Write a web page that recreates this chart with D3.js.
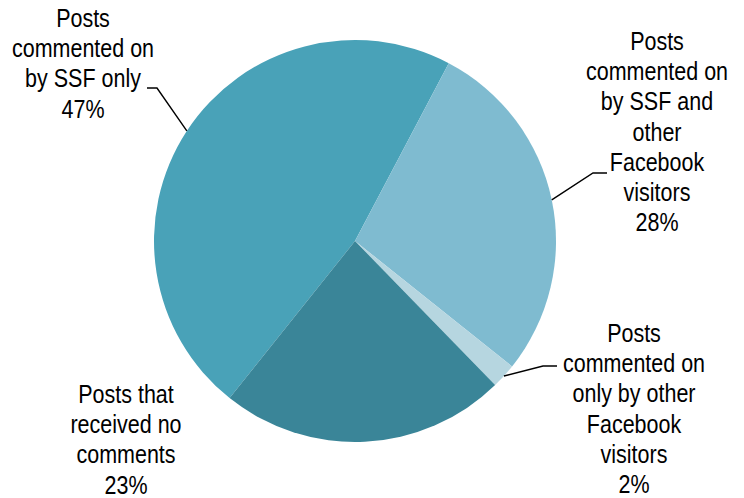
<!DOCTYPE html>
<html>
<head>
<meta charset="utf-8">
<script src="https://cdn.jsdelivr.net/npm/d3@7"></script>
<style>
  html, body { margin: 0; padding: 0; background: #fff; }
  svg { display: block; }
  text { font-family: "Liberation Sans", Arial, sans-serif; fill: #000; }
</style>
</head>
<body>
<svg id="chart" width="744" height="498"></svg>
<script>
// ---- data ----
const categories = [
  "Posts commented on by SSF only",
  "Posts commented on by SSF and other Facebook visitors",
  "Posts commented on only by other Facebook visitors",
  "Posts that received no comments"
];
const values = [47, 28, 2, 23];
const labelLines = [
  ["Posts", "commented on", "by SSF only", "47%"],
  ["Posts", "commented on", "by SSF and", "other", "Facebook", "visitors", "28%"],
  ["Posts", "commented on", "only by other", "Facebook", "visitors", "2%"],
  ["Posts that", "received no", "comments", "23%"]
];
const colors = ["#49a2b8", "#7fbbd0", "#b6d6e0", "#3a8598"];

// ---- layout ----
const cx = 355, cy = 241, R = 201;
const start = -141.4 * Math.PI / 180;
// label centre x, first baseline y, and optional leader elbow point
const labelPos = [
  { x: 83,  y: 27,  elbow: [157, 88],  end: [147, 88] },
  { x: 657, y: 50,  elbow: [593, 173], end: [607, 173] },
  { x: 634, y: 342, elbow: [543, 366], end: [557, 366] },
  { x: 126, y: 403, elbow: null }
];
const lineStep = 30.2;
const fontSize = 21.5;
const yStretch = 1.18;

const svg = d3.select("#chart");
const pie = d3.pie().sort(null).value(d => d).startAngle(start).endAngle(start + 2 * Math.PI);
const arcs = pie(values);
const arc = d3.arc().innerRadius(0).outerRadius(R);

const g = svg.append("g").attr("transform", `translate(${cx},${cy})`);
g.selectAll("path.slice")
  .data(arcs)
  .join("path")
  .attr("class", "slice")
  .attr("d", arc)
  .attr("fill", (d, i) => colors[i]);

// leader lines
arcs.forEach((d, i) => {
  const lp = labelPos[i];
  if (!lp.elbow) return;
  const mid = (d.startAngle + d.endAngle) / 2;
  const px = cx + R * Math.sin(mid), py = cy - R * Math.cos(mid);
  svg.append("polyline")
    .attr("points", [[px, py], lp.elbow, lp.end].map(p => p.join(",")).join(" "))
    .attr("fill", "none")
    .attr("stroke", "#000")
    .attr("stroke-width", 1.4);
});

// labels
labelLines.forEach((lines, i) => {
  const lp = labelPos[i];
  const lg = svg.append("g")
    .attr("transform", `translate(${lp.x},${lp.y}) scale(1,${yStretch})`);
  lines.forEach((t, k) => {
    lg.append("text")
      .attr("x", 0)
      .attr("y", k * lineStep / yStretch)
      .attr("text-anchor", "middle")
      .attr("font-size", fontSize)
      .text(t);
  });
});
</script>
</body>
</html>
